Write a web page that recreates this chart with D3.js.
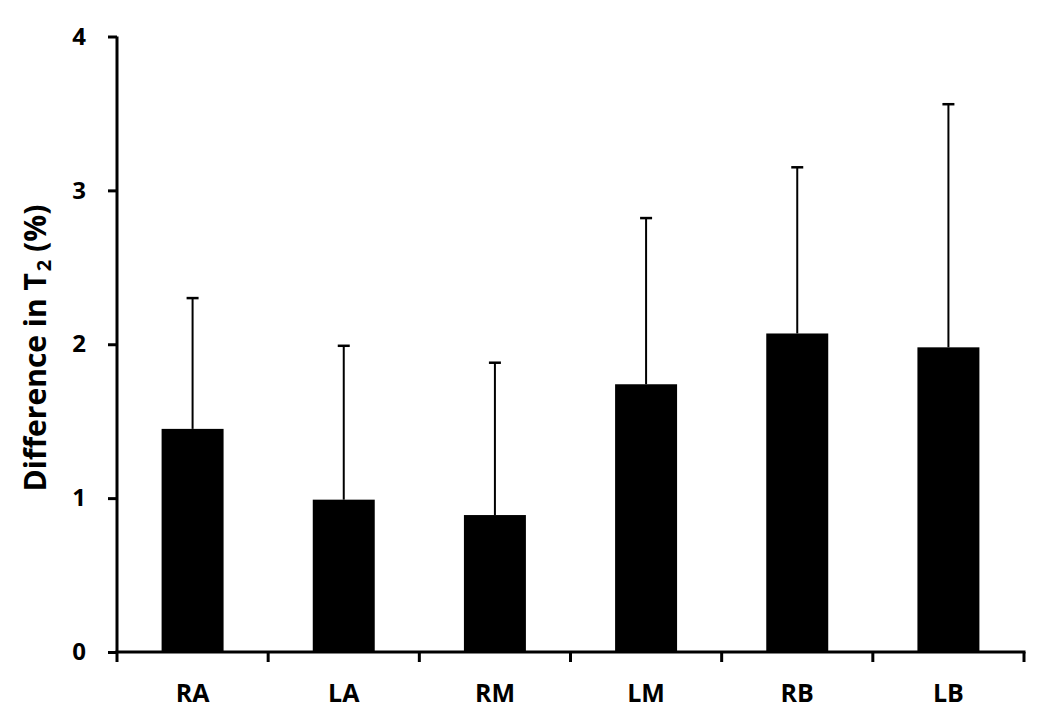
<!DOCTYPE html>
<html><head><meta charset="utf-8">
<script src="https://cdn.jsdelivr.net/npm/d3@7"></script>
<style>
html,body{margin:0;padding:0;background:#fff;}
text{font-family:"Open Sans",sans-serif;font-weight:700;fill:#000;}
</style></head>
<body><svg id="chart" width="1050" height="725"></svg>
<script>
const categories = ["RA","LA","RM","LM","RB","LB"];
const means = [1.45, 0.99, 0.89, 1.74, 2.07, 1.98];
const upperErrors = [2.30, 1.99, 1.88, 2.82, 3.15, 3.56];
const yTicks = [0,1,2,3,4];

const svg = d3.select("#chart");
const mLeft = 117, mRight = 1024, mTop = 36.5, mBottom = 652;

const x = d3.scaleBand().domain(categories).range([mLeft, mRight]).padding(0);
const y = d3.scaleLinear().domain([0,4]).range([mBottom, mTop]);
const barW = x.bandwidth()*0.41;

// bars
svg.selectAll("rect.bar").data(categories).enter().append("rect")
  .attr("x", d => x(d) + x.bandwidth()/2 - barW/2)
  .attr("y", (d,i) => y(means[i]))
  .attr("width", barW)
  .attr("height", (d,i) => y(0) - y(means[i]))
  .attr("fill", "#000");

// error bars
const capW = 12;
categories.forEach((c,i) => {
  const cx = x(c) + x.bandwidth()/2;
  svg.append("line").attr("x1",cx).attr("x2",cx)
    .attr("y1",y(means[i])).attr("y2",y(upperErrors[i]))
    .attr("stroke","#000").attr("stroke-width",2);
  svg.append("line").attr("x1",cx-capW/2).attr("x2",cx+capW/2)
    .attr("y1",y(upperErrors[i])).attr("y2",y(upperErrors[i]))
    .attr("stroke","#000").attr("stroke-width",2.5);
});

// y axis
const yAxis = d3.axisLeft(y).tickValues(yTicks).tickFormat(d3.format("d")).tickSize(9).tickPadding(22);
const gy = svg.append("g").attr("transform",`translate(${mLeft},0)`).call(yAxis);
gy.select(".domain").attr("d", `M0,${mTop}V${mBottom}`).attr("stroke","#000").attr("stroke-width",3);
gy.selectAll(".tick line").attr("stroke","#000").attr("stroke-width",3);
gy.selectAll(".tick text").style("font-size","24px").style("font-family","'Open Sans',sans-serif").style("font-weight","700");

// x axis
const gx = svg.append("g").attr("transform",`translate(0,${mBottom})`);
gx.append("line").attr("x1",mLeft-1.5).attr("x2",mRight+1.5).attr("y1",0).attr("y2",0)
  .attr("stroke","#000").attr("stroke-width",3);
const bounds = categories.map(c => x(c)).concat([mRight]);
gx.selectAll("line.t").data(bounds).enter().append("line")
  .attr("x1",d=>d).attr("x2",d=>d).attr("y1",0).attr("y2",10)
  .attr("stroke","#000").attr("stroke-width",3);
gx.selectAll("text.cat").data(categories).enter().append("text")
  .attr("x", d => x(d)+x.bandwidth()/2).attr("y", 50)
  .attr("text-anchor","middle").style("font-size","25px").text(d=>d);

// y label
const yl = svg.append("text").attr("transform",`translate(46,348) rotate(-90)`)
  .attr("text-anchor","middle").style("font-size","30px");
yl.append("tspan").text("Difference in T");
yl.append("tspan").attr("baseline-shift","-5").attr("dx","2").style("font-size","20px").text("2");
yl.append("tspan").text(" (%)");
</script></body></html>
